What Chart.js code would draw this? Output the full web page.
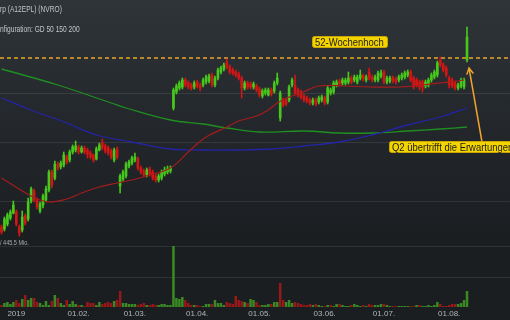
<!DOCTYPE html>
<html>
<head>
<meta charset="utf-8">
<script src="https://cdn.jsdelivr.net/npm/chart.js@4.4.0/dist/chart.umd.min.js"></script>
<style>
html, body { margin: 0; padding: 0; background: #1b1e21; }
#wrap { position: relative; width: 510px; height: 320px; background: linear-gradient(#2f3438 0%, #23272b 40%, #1b1e21 75%, #1b1e21 100%); }
canvas { display: block; }
</style>
</head>
<body>
<div id="wrap"><canvas id="kurs" width="510" height="320"></canvas></div>
<script>
"use strict";

// trading days (US calendar), Dec 2018 - Aug 2019
var firstDay = '2018-12-24';
var lastDay = '2019-08-29';
var holidays = ['2018-12-25', '2019-01-01', '2019-01-21', '2019-02-18', '2019-04-19', '2019-05-27', '2019-07-04'];

var tickDates = ['2019-01-02', '2019-02-01', '2019-03-01', '2019-04-01', '2019-05-01', '2019-06-03', '2019-07-01', '2019-08-01'];
var tickLabels = ['2019', '01.02.', '01.03.', '01.04.', '01.05.', '03.06.', '01.07.', '01.08.'];
var gridDates = tickDates.slice(1);

var priceGrid = [45.8, 57.6, 67.2];
var volumeGrid = [1500, 3050];
var high52 = 74.4;

// OHLC (USD), one per trading day
var open = [
  40.6,40.2,41.2,42.4,43.4,43.6,40.6,40.0,42.8,42.2,
  45.8,47.8,46.0,43.8,45.0,46.0,48.0,51.6,50.4,53.2,
  52.6,53.0,54.6,54.0,55.6,56.0,56.6,55.6,56.4,56.0,
  55.4,55.0,54.2,56.0,57.4,56.8,56.4,55.8,54.0,56.2,
  48.8,50.2,50.8,52.8,53.4,54.0,54.2,52.4,51.8,51.0,
  52.2,51.6,50.8,50.0,50.4,51.2,51.6,51.8,64.4,67.6,
  68.4,68.6,70.0,69.4,69.0,68.6,69.6,69.0,69.0,69.6,
  69.8,71.0,69.0,70.4,71.6,72.2,73.6,72.6,72.0,71.6,
  71.2,70.4,68.4,69.4,69.2,68.6,68.8,68.2,66.8,67.4,
  67.0,68.0,67.8,69.4,62.4,66.0,66.0,66.0,69.0,69.0,
  68.0,67.6,66.8,66.4,66.0,65.4,66.0,65.6,66.0,66.4,
  65.6,67.4,67.6,69.0,69.8,69.4,69.4,69.6,70.4,70.0,
  69.6,70.4,70.8,70.0,71.6,70.6,70.0,70.0,70.8,71.6,
  69.6,69.8,70.4,70.2,70.0,70.4,70.6,71.0,71.6,70.4,
  70.0,69.6,69.6,68.8,69.0,70.0,70.6,71.0,74.0,73.0,
  72.4,70.4,70.0,69.4,68.4,68.8,68.6,74.0
];
var high = [
  41.0,42.6,43.4,44.0,45.8,44.0,41.0,43.8,43.2,46.4,
  48.6,48.2,46.4,45.6,47.2,48.8,52.0,52.0,53.8,53.6,
  53.8,55.6,55.0,56.0,57.0,57.8,57.0,56.8,56.8,56.4,
  55.8,55.2,56.6,57.4,58.2,57.2,56.8,56.2,56.4,56.6,
  51.2,52.0,53.6,54.0,54.8,55.4,54.6,52.8,52.2,52.4,
  52.6,52.0,51.2,51.2,52.0,52.6,52.8,52.8,68.4,69.2,
  69.8,70.4,70.4,69.8,69.4,69.8,70.0,69.4,70.4,71.0,
  71.2,71.4,70.8,72.4,72.8,73.4,74.2,73.0,72.4,72.0,
  71.6,70.8,69.8,69.8,69.6,69.6,69.2,68.6,68.2,68.4,
  68.4,68.4,69.8,71.4,67.8,66.4,66.4,69.0,70.4,71.0,
  68.4,68.0,67.2,66.8,66.4,66.4,66.4,66.8,67.0,66.8,
  68.8,68.4,69.8,70.0,70.2,70.4,70.4,71.6,70.8,71.0,
  71.0,72.0,71.2,71.0,72.4,71.0,71.0,71.8,72.0,72.0,
  70.8,70.8,70.8,70.6,71.0,71.4,71.8,72.0,72.0,70.8,
  70.4,70.0,70.0,70.0,70.4,71.4,72.0,73.8,74.6,73.4,
  72.8,70.8,70.4,69.8,69.4,70.4,70.4,80.6
];
var low = [
  39.2,39.8,40.8,42.0,43.2,40.8,38.8,39.6,41.0,41.8,
  45.4,45.6,44.2,43.4,44.4,45.6,47.6,48.4,50.0,52.0,
  52.2,52.6,53.2,53.6,55.2,55.6,55.2,55.4,55.2,54.4,
  54.2,53.6,54.0,55.8,56.0,55.4,55.0,54.2,53.6,54.2,
  47.4,49.8,50.4,52.4,53.0,53.6,52.0,51.2,50.6,50.6,
  50.8,50.0,49.6,49.6,50.0,50.8,51.2,51.4,64.0,67.2,
  68.0,68.2,68.6,68.2,68.0,68.2,68.4,67.8,68.6,69.2,
  69.4,68.6,68.6,70.0,71.2,71.8,72.2,71.2,71.0,70.6,
  70.0,66.4,68.0,68.2,68.2,68.2,67.6,66.6,66.4,67.0,
  66.8,66.8,67.4,69.0,61.8,64.6,64.8,65.6,68.6,67.0,
  66.6,66.2,65.6,65.4,65.0,65.0,64.8,65.2,65.6,65.0,
  65.2,67.0,67.2,68.6,68.8,69.0,69.0,69.2,69.2,69.6,
  69.2,70.0,69.8,69.6,70.0,69.6,69.6,69.6,70.4,69.2,
  69.2,69.4,69.4,69.2,69.6,70.0,70.2,70.6,69.6,68.2,
  68.6,68.0,67.6,68.4,68.6,69.6,70.2,70.6,72.6,71.6,
  70.6,68.4,68.4,68.0,68.0,68.4,68.2,73.6
];
var close = [
  39.6,42.2,43.0,43.6,45.0,41.2,39.4,42.6,41.4,45.6,
  48.2,46.0,44.6,45.2,46.8,48.2,51.6,49.0,53.2,52.4,
  53.4,55.0,53.6,55.6,56.6,56.8,55.6,56.4,55.6,55.2,
  54.6,54.0,56.2,57.0,56.4,55.8,55.4,54.6,56.0,54.6,
  50.8,51.6,53.2,53.6,54.4,54.6,52.4,51.6,51.0,52.0,
  51.2,50.4,50.0,50.8,51.6,52.0,52.2,52.4,68.0,68.8,
  69.4,70.0,69.0,68.6,68.4,69.4,68.8,68.4,70.0,70.6,
  70.8,69.0,70.4,72.0,72.4,73.0,72.6,71.6,71.4,71.0,
  70.4,68.4,69.4,68.6,68.6,69.2,68.0,67.0,67.8,68.0,
  68.0,67.2,69.4,70.4,67.4,65.0,65.2,68.6,70.0,67.4,
  67.0,66.6,66.0,65.8,65.4,66.0,65.2,66.4,66.6,65.4,
  68.4,68.0,69.4,69.6,69.2,70.0,70.0,70.4,69.6,70.6,
  70.6,71.0,70.2,70.6,70.4,70.0,70.6,71.4,71.4,69.6,
  70.4,70.4,69.8,69.6,70.6,71.0,71.4,71.6,70.0,68.6,
  69.0,68.6,68.6,69.6,70.0,71.0,71.6,73.4,73.0,72.0,
  71.0,69.0,68.8,68.4,69.0,70.0,70.0,78.6
];
// volume in thousand shares
var volume = [
  100,200,250,150,250,350,200,400,600,350,
  450,450,250,200,100,300,100,300,600,450,
  200,100,350,150,300,150,100,100,50,250,
  200,200,100,250,150,200,250,200,300,350,
  800,200,200,150,150,150,100,150,200,100,
  100,150,100,100,150,150,100,100,3050,450,
  400,500,350,200,100,100,100,50,50,150,
  150,150,350,200,200,100,250,200,150,550,
  350,300,250,200,400,350,250,100,100,100,
  150,150,250,250,1200,350,250,350,200,250,
  200,150,100,100,150,100,150,100,50,50,
  100,100,50,150,150,100,50,50,100,150,
  100,50,100,50,150,100,100,100,150,150,
  100,50,50,50,50,50,50,50,50,50,
  100,100,50,50,100,50,100,250,150,50,
  50,100,150,150,150,200,350,800
];

// moving averages (GD 50 / 150 / 200), read at a few trading days
var gd50Days = [0,10,16,22,27,33,39,44,50,57,63,69,76,80,86,90,93,97,101,107,116,124,134,142,151,156];
var gd50 = [50.4,46.8,45.6,46.2,47.4,48.6,49.4,50.0,51.0,52.4,55.6,58.6,60.6,61.8,62.8,64.0,65.4,66.6,67.4,68.8,68.8,68.6,68.6,69.0,69.6,70.0];
var gd150Days = [0,10,22,32,44,57,68,79,91,102,114,125,137,148,157];
var gd150 = [66.4,64.0,61.4,59.0,57.6,56.2,56.0,56.0,56.2,56.8,57.6,59.0,61.0,62.6,64.4];
var gd200Days = [0,19,37,42,57,68,76,87,102,114,125,137,148,157];
var gd200 = [72.2,69.0,65.4,64.4,62.0,61.2,60.4,59.6,59.8,59.4,59.4,59.8,60.2,60.6];

var notes = [
  { text: '52-Wochenhoch', day: '2019-05-28', price: 77.7 },
  { text: 'Q2 übertrifft die Erwartungen', day: '2019-07-03', price: 56.8 }
];
var arrowTail = { day: '2019-08-16', price: 57.8 };
var arrowTip = { day: '2019-08-09', price: 72.4 };

var days = [];
for (var d = new Date(firstDay + 'T00:00:00Z'); d <= new Date(lastDay + 'T00:00:00Z'); d.setUTCDate(d.getUTCDate() + 1)) {
  var s = d.toISOString().slice(0, 10);
  var wd = d.getUTCDay();
  if (wd === 0 || wd === 6 || holidays.indexOf(s) >= 0) continue;
  days.push(s);
}

var upColor = '#46c81c';
var downColor = '#d21515';
var volUp = '#3a8a24';
var volDown = '#971818';
var gridColor = 'rgba(255,255,255,0.09)';
var fontFamily = "'Liberation Sans', Arial, sans-serif";

function candleColor(ctx) {
  var i = ctx.dataIndex;
  return close[i] >= open[i] ? upColor : downColor;
}
function maPoints(idx, vals) {
  return idx.map(function (k, j) { return { x: days[k], y: vals[j] }; });
}

function squish(ctx, text, x, yBase, font, color, sx) {
  ctx.save();
  ctx.font = font;
  ctx.fillStyle = color;
  ctx.textBaseline = 'alphabetic';
  ctx.translate(x, yBase);
  ctx.scale(sx, 1);
  ctx.fillText(text, 0, 0);
  ctx.restore();
}

function noteBox(ctx, text, left, midY) {
  var font = '11px ' + fontFamily;
  ctx.save();
  ctx.font = font;
  var w = Math.round(ctx.measureText(text).width * 0.86) + 6;
  var h = 11;
  var top = Math.round(midY - h / 2);
  ctx.fillStyle = '#f3d400';
  ctx.strokeStyle = '#c7a600';
  ctx.lineWidth = 1;
  ctx.beginPath();
  ctx.roundRect(left + 0.5, top + 0.5, w, h, 2);
  ctx.fill();
  ctx.stroke();
  ctx.restore();
  squish(ctx, text, left + 3, top + 9.5, font, '#1c1c1c', 0.86);
}

var overlay = {
  id: 'overlay',
  beforeDatasetsDraw: function (chart) {
    var ctx = chart.ctx, a = chart.chartArea, y = chart.scales.y;
    var yy = Math.round(y.getPixelForValue(high52));
    ctx.save();
    ctx.strokeStyle = '#bb872e';
    ctx.lineWidth = 2;
    ctx.setLineDash([4, 3]);
    ctx.beginPath();
    ctx.moveTo(a.left, yy);
    ctx.lineTo(a.right, yy);
    ctx.stroke();
    ctx.restore();
  },
  afterDatasetsDraw: function (chart) {
    var ctx = chart.ctx, x = chart.scales.x, y = chart.scales.y, v = chart.scales.v;

    squish(ctx, 'rp (A12EPL) (NVRO)', 0, 12, '8.5px ' + fontFamily, '#c2c6c9', 0.78);
    squish(ctx, 'nfiguration: GD 50 150 200', 0, 32, '8.5px ' + fontFamily, '#c2c6c9', 0.78);
    squish(ctx, '/ 445.5 Mio.', 0, v.getPixelForValue(volumeGrid[1]) - 1, '6.5px ' + fontFamily, '#a7abae', 0.85);

    // arrow
    var tx = x.getPixelForValue(days.indexOf(arrowTip.day)) + 2;
    var ty = y.getPixelForValue(arrowTip.price);
    var fx = x.getPixelForValue(days.indexOf(arrowTail.day));
    var fy = y.getPixelForValue(arrowTail.price);
    var ang = Math.atan2(ty - fy, tx - fx);
    ctx.save();
    ctx.strokeStyle = '#f0a22a';
    ctx.lineWidth = 1.5;
    ctx.beginPath();
    ctx.moveTo(fx, fy);
    ctx.lineTo(tx, ty);
    ctx.moveTo(tx - 7 * Math.cos(ang - 0.5), ty - 7 * Math.sin(ang - 0.5));
    ctx.lineTo(tx, ty);
    ctx.lineTo(tx - 7 * Math.cos(ang + 0.5), ty - 7 * Math.sin(ang + 0.5));
    ctx.stroke();
    ctx.restore();

    notes.forEach(function (n) {
      var left = Math.round(x.getPixelForValue(days.indexOf(n.day))) - 1;
      noteBox(ctx, n.text, left, y.getPixelForValue(n.price));
    });
  }
};

var ctx = document.getElementById('kurs');
var myChart = new Chart(ctx, {
  type: 'bar',
  data: {
    labels: days,
    datasets: [{
      type: 'line',
      data: maPoints(gd50Days, gd50),
      borderColor: '#a51c1c',
      borderWidth: 1.2,
      pointRadius: 0,
      tension: 0.4,
      yAxisID: 'y',
      order: 0
    }, {
      type: 'line',
      data: maPoints(gd150Days, gd150),
      borderColor: '#2424a6',
      borderWidth: 1.3,
      pointRadius: 0,
      tension: 0.4,
      yAxisID: 'y',
      order: 0
    }, {
      type: 'line',
      data: maPoints(gd200Days, gd200),
      borderColor: '#1f8f22',
      borderWidth: 1.3,
      pointRadius: 0,
      tension: 0.4,
      yAxisID: 'y',
      order: 0
    }, {
      // wicks
      data: low.map(function (l, i) { return [l, high[i]]; }),
      backgroundColor: candleColor,
      barThickness: 1,
      grouped: false,
      yAxisID: 'y',
      order: 2
    }, {
      // bodies
      data: open.map(function (o, i) { return [o, close[i]]; }),
      backgroundColor: candleColor,
      barThickness: 2,
      minBarLength: 1,
      grouped: false,
      yAxisID: 'y',
      order: 1
    }, {
      data: volume,
      backgroundColor: function (c) {
        var i = c.dataIndex;
        var prev = i > 0 ? close[i - 1] : open[i];
        return close[i] >= prev ? volUp : volDown;
      },
      barPercentage: 0.85,
      categoryPercentage: 1,
      grouped: false,
      yAxisID: 'v',
      order: 3
    }]
  },
  options: {
    responsive: false,
    animation: false,
    devicePixelRatio: 1,
    events: [],
    layout: { padding: 0 },
    plugins: { legend: { display: false }, tooltip: { enabled: false } },
    scales: {
      x: {
        type: 'category',
        offset: true,
        border: { display: false },
        grid: {
          offset: false,
          drawTicks: false,
          color: function (c) { return gridDates.indexOf(days[c.index]) >= 0 ? gridColor : 'rgba(0,0,0,0)'; }
        },
        ticks: {
          autoSkip: false,
          maxRotation: 0,
          padding: 2,
          color: '#b2b5b8',
          font: { size: 8, family: fontFamily },
          callback: function (val, i) {
            var k = tickDates.indexOf(days[i]);
            return k < 0 ? null : tickLabels[k];
          }
        },
        afterFit: function (s) { s.height = 13; }
      },
      y: {
        type: 'linear',
        position: 'left',
        min: 24.6,
        max: 86,
        border: { display: false },
        grid: { color: gridColor, drawTicks: false },
        ticks: { display: false },
        afterBuildTicks: function (s) { s.ticks = priceGrid.map(function (p) { return { value: p }; }); },
        afterFit: function (s) { s.width = 0; }
      },
      v: {
        type: 'linear',
        position: 'right',
        min: 0,
        max: 15350,
        border: { display: false },
        grid: { color: gridColor, drawTicks: false },
        ticks: { display: false },
        afterBuildTicks: function (s) { s.ticks = volumeGrid.map(function (p) { return { value: p }; }); },
        afterFit: function (s) { s.width = 0; }
      }
    }
  },
  plugins: [overlay]
});
</script>
</body>
</html>
